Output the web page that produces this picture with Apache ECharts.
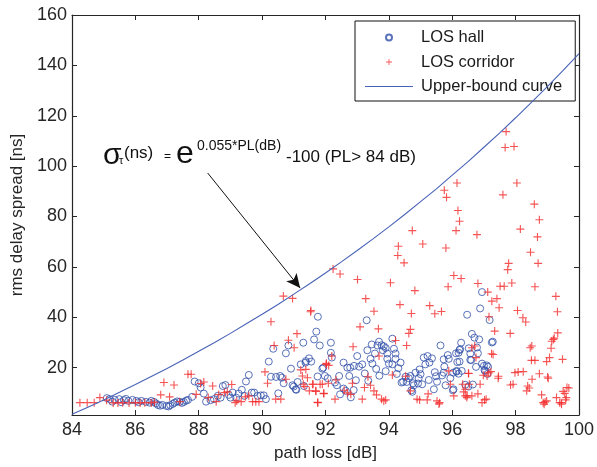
<!DOCTYPE html>
<html>
<head>
<meta charset="utf-8">
<script src="https://cdn.jsdelivr.net/npm/echarts@6/dist/echarts.min.js"></script>
<style>html,body{margin:0;padding:0;background:#fff;}#c{width:597px;height:467px;}</style>
</head>
<body>
<div id="c"></div>
<script>
// ---- data ----
const xTicks = [84, 86, 88, 90, 92, 94, 96, 98, 100];
const yTicks = [20, 40, 60, 80, 100, 120, 140, 160];
const xRange = [84, 100];
const yRange = [1.2, 160];

const hallPoints = [
[85.19,7.5],[85.35,7.2],[85.49,7.5],[85.64,7.1],[85.78,6.8],[85.91,7.2],[86.03,6.8],[86.19,6.8],[86.33,6.4],[86.45,6.1],[86.59,6.4],[86.71,5.2],[86.85,5.2],[86.98,4.8],[87.1,5.1],[87.24,6.1],[87.4,6.4],[87.53,6.4],[87.66,7.2],[87.79,8.4],
[85.1,7.9],[85.27,6.5],[85.55,6.3],[85.7,7.6],[86.1,6.3],[86.5,6.8],[86.65,5.8],[86.78,4.9],[87.05,4.6],[87.18,5.6],[87.32,6.6],[87.47,6.0],[87.6,6.9],
[87.87,14.5],[88.0,13.8],[88.06,12.1],[88.16,9.7],[88.23,6.5],[88.37,7.1],[88.48,7.5],[88.6,8.8],[88.69,8.1],[88.76,12.7],[88.84,13.1],[88.95,9.2],[89.0,8.1],[89.07,10.1],[89.18,8.1],[89.26,9.7],[89.36,11.2],[89.44,8.8],[89.49,14.5],[89.58,17.1],[89.67,10.1],[89.75,10.1],[89.86,8.8],[89.96,9.0],[90.05,9.0],[90.12,7.5],
[90.21,22.4],[90.28,16.4],[90.35,27.5],[90.44,16.3],[90.51,9.8],[90.57,16.7],[90.62,16.0],[90.68,13.8],[90.75,25.7],[90.83,28.8],[90.91,19.6],[90.96,13.0],[91.06,11.4],[91.12,14.3],
[91.76,40.2],[91.71,34.3],[91.64,31.2],[91.82,28.8],[91.3,29.9],[91.22,21.3],[91.37,22.0],[91.48,23.7],[91.55,22.4],[91.9,19.6],[91.98,16.7],[92.07,15.8],[91.0,12.5],[91.32,12.7],[91.08,11.2],
[91.38,22.6],[91.93,20.0],[92.17,25.9],[92.2,24.0],[92.57,22.0],[92.69,20.0],[92.78,20.0],[92.9,20.7],[93.06,20.4],[93.16,21.3],[93.0,24.6],[93.24,17.7],[92.96,15.0],[92.75,16.7],[92.43,16.7],[92.3,14.1],[92.36,13.0],[92.57,11.7],[92.64,10.8],[92.8,8.2],[92.89,11.1],[92.46,9.4],[91.75,16.5],
[93.3,38.8],[92.17,29.9],[94.11,31.5],[93.69,30.3],[93.46,29.2],[93.64,28.8],[93.77,28.9],[93.84,28.5],[93.9,27.8],[93.81,26.9],[93.95,25.6],[93.56,25.6],[93.32,26.9],[94.16,27.5],[94.21,25.6],[94.21,23.5],[94.0,21.6],[94.11,21.3],[94.37,22.0],[93.42,23.5],[93.48,21.6],[93.95,23.5],
[93.6,19.5],[93.9,18.6],[93.35,14.8],[94.25,17.5],[94.3,19.8],[93.7,16.8],
[95.63,28.8],[95.1,24.0],[95.22,24.6],[95.36,23.7],[95.28,22.0],[95.15,21.3],[94.97,19.3],[95.0,17.4],[94.84,18.0],[94.68,16.7],[94.53,16.4],[94.45,14.4],[94.63,15.8],[94.56,14.3],[94.4,14.1],[94.76,13.8],[94.79,13.0],[94.71,11.0],[94.92,13.7],[94.94,15.8],[95.26,15.1],[95.45,18.2],[95.49,16.6],[95.68,16.9],[95.75,20.4],[95.73,23.3],[95.86,25.0],[95.89,23.5],[95.52,14.4],[95.79,13.0],[95.73,18.0],[95.94,15.8],
[96.03,18.0],[96.13,18.4],[96.2,17.6],[96.02,11.0],[96.16,22.2],[96.12,25.7],[96.23,27.0],[96.28,29.9],[96.47,41.0],[96.62,33.4],[96.7,31.9],[96.85,31.2],[96.52,27.7],[96.57,25.6],[96.78,28.0],[96.81,25.7],[96.57,23.1],[96.75,20.3],[96.94,21.6],[97.0,20.7],[97.02,19.0],[97.13,20.3],[97.11,17.5],[96.94,50.0],[96.88,43.5],[97.18,38.9],[97.25,30.0],[96.41,13.2],[96.65,13.3],[95.42,11.4],[94.74,10.4],[95.05,13.4],
[96.2,25.9],[96.25,27.3],[96.6,23.0],[96.23,22.4],[97.09,20.9],[97.04,18.7],[96.14,18.7],[96.3,18.7],[96.51,12.5],[96.04,11.4],[97.28,30.3]
];

const corridorPoints = [
[84.25,6.1],[84.48,6.1],[84.70,6.1],[84.88,8.1],[85.09,7.1],[85.3,6.0],[85.45,6.0],[85.6,6.1],[85.8,6.0],[86.0,6.1],[86.15,6.0],[86.3,6.1],[86.5,6.0],[86.6,6.3],[86.8,9.2],[86.9,14.1],[87.08,8.4],[87.22,13.1],[87.4,6.5],[87.66,17.4],[87.76,17.4],[87.92,9.4],[88.06,13.7],[88.16,14.3],[88.3,8.1],[88.44,12.7],[88.55,6.5],[88.63,9.3],[88.81,10.1],[88.9,10.4],[89.04,13.3],[89.15,6.1],[89.2,6.8],[89.34,6.5],[89.47,8.4],[89.58,8.8],[89.7,6.5],[89.8,6.5],[89.9,6.5],
[90.09,18.3],[90.17,13.8],[90.28,38.2],[90.38,28.8],[90.43,7.5],[90.59,7.5],[90.67,48.4],[90.83,30.9],[90.96,47.5],[91.01,27.9],[91.1,33.5],[90.75,15.4],
[91.53,42.2],[91.22,19.1],[91.27,16.7],[91.43,16.0],[91.35,12.5],[91.61,13.4],[91.69,10.8],[91.9,13.4],[91.95,9.7],[91.76,6.1],[92.02,21.3],
[97.7,113.7],[97.67,107.4],[97.95,107.8],[96.15,93.3],[98.04,93.3],[95.75,90.4],[95.82,87.6],[97.6,88.6],[98.59,84.9],[96.18,82.4],[98.75,78.7],[96.23,78.1],[98.15,75.0],
[94.74,74.4],[96.12,74.4],[96.78,72.8],[98.69,71.9],[94.3,68.2],[95.07,69.1],[95.8,67.5],[94.28,64.5],[94.48,61.6],[98.47,65.8],[97.78,61.4],[97.75,58.9],[98.71,61.4],[92.24,59.2],[92.46,57.2],[93.01,55.0],[96.05,56.6],[96.28,55.4],[94.05,53.7],[95.87,52.1],[94.82,50.6],[96.81,53.4],[97.12,50.0],[97.51,52.3],[97.64,52.3],[97.88,53.6],[98.61,52.1],
[93.27,47.4],[94.35,45.0],[97.25,46.4],[97.41,47.4],[99.27,48.3],[91.54,42.7],[93.53,42.4],[95.29,44.6],[95.45,41.4],[95.66,42.3],[94.71,41.5],[97.48,43.8],[98.06,42.7],[97.16,40.2],[98.23,39.8],[98.32,38.1],[99.32,42.2],
[93.09,36.2],[93.67,35.4],[94.68,35.2],[94.63,33.6],[97.34,34.5],[97.83,33.6],[99.33,33.8],[99.19,31.2],[99.14,30.5],[99.22,31.7],[94.21,30.8],[92.87,28.3],[94.56,28.8],[96.71,28.6],[96.62,27.9],[98.51,28.6],[98.46,27.9],[99.12,27.7],[97.29,25.2],[97.24,25.5],[93.69,24.6],[92.2,24.6],[96.75,24.0],[98.5,22.9],[98.61,22.9],[98.98,22.4],[99.07,24.0],[99.48,23.3],
[92.03,21.7],[92.1,20.9],[91.38,19.3],[94.11,17.1],[93.34,16.4],[95.89,18.7],[96.52,17.7],[97.15,17.9],[97.1,16.7],[97.98,18.0],[98.08,18.3],[98.24,18.4],[98.75,17.6],[99.01,16.3],[99.03,15.8],[97.46,16.6],[98.52,15.4],[96.98,17.0],[97.22,18.4],
[91.3,13.4],[91.59,13.4],[91.83,13.4],[92.09,13.8],[92.33,15.1],[92.85,13.8],[91.49,10.8],[91.7,10.6],[91.94,9.8],[91.75,6.2],[92.3,7.5],[92.59,11.0],[92.69,10.0],[92.8,9.4],[93.16,7.5],[93.42,13.0],[93.53,10.8],[93.61,9.2],[93.77,7.5],[93.84,6.8],[93.9,7.2],[93.23,12.1],
[94.53,16.6],[94.68,10.8],[94.89,7.5],[94.97,7.2],[95.24,9.6],[95.21,7.2],[95.52,6.8],[95.6,6.1],[95.58,5.6],[95.94,13.4],[96.05,8.8],[96.33,13.4],[96.36,10.4],[96.41,8.8],[96.47,8.8],[96.54,13.4],[96.81,9.6],[96.88,13.4],[96.94,6.1],[97.02,7.2],[97.07,7.5],
[97.92,13.4],[98.38,12.7],[98.43,11.9],[98.35,10.8],[98.82,9.2],[98.87,6.1],[98.93,6.4],[98.98,6.8],[99.29,8.1],[99.39,6.1],[99.44,6.1],[99.5,10.6],[99.55,9.8],[99.62,12.1],[99.68,11.9],[99.58,7.2],[99.6,8.1],[98.9,5.5],[99.45,5.5],[96.62,8.8],[96.46,8.1],[96.41,11.4],[97.84,13.1],[97.45,15.8],[96.51,17.8]
];

// upper-bound curve, values
const curveX = [84,84.5,85,85.5,86,86.5,87,87.5,88,88.5,89,89.5,90,90.5,91,91.5,92,92.5,93,93.5,94,94.5,95,95.5,96,96.5,97,97.5,98,98.5,99,99.5,100];
const curveY = [1.5,4.3,7.2,10.2,13.3,16.5,19.7,23.0,26.5,30.0,33.6,37.4,41.2,45.1,49.2,53.3,57.6,62.0,66.5,71.1,75.9,80.8,85.9,91.0,96.4,101.8,107.5,113.2,119.2,125.3,131.6,138.0,144.7];

// arrow of the annotation (data coords)
const arrowFrom = [88.28, 97.3];
const arrowTo = [91.2, 51.6];

const seriesNames = ['LOS hall', 'LOS corridor', 'Upper-bound curve'];

// ---- chart ----
const FONT = '"Liberation Sans", Arial, sans-serif';
const axisCol = '#262626';
const hallCol = '#2f4fa8';
const corrCol = '#f22a2a';
const curveCol = '#4862b6';
const plusPath = 'path://M-0.14,-1 L0.14,-1 L0.14,-0.14 L1,-0.14 L1,0.14 L0.14,0.14 L0.14,1 L-0.14,1 L-0.14,0.14 L-1,0.14 L-1,-0.14 L-0.14,-0.14 Z';
const lineIcon = 'path://M0,0 L48,0 L48,1.1 L0,1.1 Z';

const chart = echarts.init(document.getElementById('c'), null, {renderer: 'canvas'});

const baseX = {
  type: 'value', min: xRange[0], max: xRange[1], interval: 2,
  axisLine: {show: true, onZero: false, lineStyle: {color: axisCol, width: 1.2}},
  axisTick: {show: true, inside: true, length: 5, lineStyle: {color: axisCol, width: 1}},
  splitLine: {show: false}
};
const baseY = {
  type: 'value', min: yRange[0], max: yRange[1],
  axisLine: {show: true, onZero: false, lineStyle: {color: axisCol, width: 1.2}},
  axisTick: {show: true, inside: true, length: 5, customValues: yTicks, lineStyle: {color: axisCol, width: 1}},
  splitLine: {show: false}
};

chart.setOption({
  animation: false,
  backgroundColor: '#fff',
  grid: {left: 72, right: 16, top: 15, bottom: 51, containLabel: false},
  xAxis: [
    Object.assign({}, baseX, {
      position: 'bottom',
      axisLabel: {show: true, margin: 6, color: axisCol, fontSize: 18, fontFamily: FONT,
        formatter: v => xTicks.indexOf(v) >= 0 ? String(v) : ''},
      name: 'path loss [dB]', nameLocation: 'middle', nameGap: 30,
      nameTextStyle: {color: axisCol, fontSize: 17, fontFamily: FONT}
    }),
    Object.assign({}, baseX, {position: 'top', axisLabel: {show: false}})
  ],
  yAxis: [
    Object.assign({}, baseY, {
      position: 'left',
      axisLabel: {show: true, margin: 5, color: axisCol, fontSize: 18, fontFamily: FONT, customValues: yTicks},
      name: 'rms delay spread [ns]', nameLocation: 'middle', nameGap: 41,
      nameTextStyle: {color: axisCol, fontSize: 17, fontFamily: FONT}
    }),
    Object.assign({}, baseY, {position: 'right', axisLabel: {show: false}})
  ],
  legend: {
    data: [
      {name: seriesNames[0]},
      {name: seriesNames[1]},
      {name: seriesNames[2], icon: lineIcon, itemStyle: {color: curveCol}}
    ],
    orient: 'vertical',
    left: 355, top: 21,
    padding: [8, 13, 6, 10],
    itemGap: 7.5,
    itemWidth: 48, itemHeight: 6,
    backgroundColor: '#fff',
    borderColor: '#111', borderWidth: 1,
    textStyle: {color: '#1a1a1a', fontSize: 16.5, fontFamily: FONT, padding: [0, 0, 0, 3]},
    selectedMode: false
  },
  series: [
    {
      name: seriesNames[0], type: 'scatter', data: hallPoints,
      symbol: 'circle', symbolSize: 7,
      itemStyle: {color: 'rgba(255,255,255,0)', borderColor: hallCol, borderWidth: 1},
      emphasis: {disabled: true}, z: 2
    },
    {
      name: seriesNames[1], type: 'scatter', data: corridorPoints,
      symbol: plusPath, symbolSize: 8,
      itemStyle: {color: corrCol, borderWidth: 0},
      emphasis: {disabled: true}, z: 3
    },
    {
      name: seriesNames[2], type: 'line', data: curveX.map((x, i) => [x, curveY[i]]),
      symbol: 'none', showSymbol: false,
      lineStyle: {color: curveCol, width: 1.1},
      itemStyle: {color: curveCol},
      emphasis: {disabled: true}, z: 4,
      markLine: {
        silent: true, animation: false,
        symbol: ['none', 'arrow'], symbolSize: [10, 14],
        label: {show: false},
        lineStyle: {color: '#111', width: 1, type: 'solid'},
        data: [[{coord: arrowFrom}, {coord: arrowTo}]]
      }
    }
  ],
  graphic: [
    {type: 'text', left: 103, top: 141, style: {text: 'σ', font: '30px ' + FONT, fill: '#111'}, z: 10},
    {type: 'text', left: 119, top: 155, style: {text: 'τ', font: '11px ' + FONT, fill: '#111'}, z: 10},
    {type: 'text', left: 124, top: 145, style: {text: '(ns)', font: '17px ' + FONT, fill: '#111'}, z: 10},
    {type: 'text', left: 164, top: 151, style: {text: '=', font: '12px ' + FONT, fill: '#111'}, z: 10},
    {type: 'text', left: 176, top: 138, style: {text: 'e', font: '32px ' + FONT, fill: '#111'}, z: 10},
    {type: 'text', left: 197, top: 139, style: {text: '0.055*PL(dB)', font: '14px ' + FONT, fill: '#111'}, z: 10},
    {type: 'text', left: 286, top: 149, style: {text: '-100 (PL> 84 dB)', font: '17px ' + FONT, fill: '#111'}, z: 10}
  ]
});
</script>
</body>
</html>
